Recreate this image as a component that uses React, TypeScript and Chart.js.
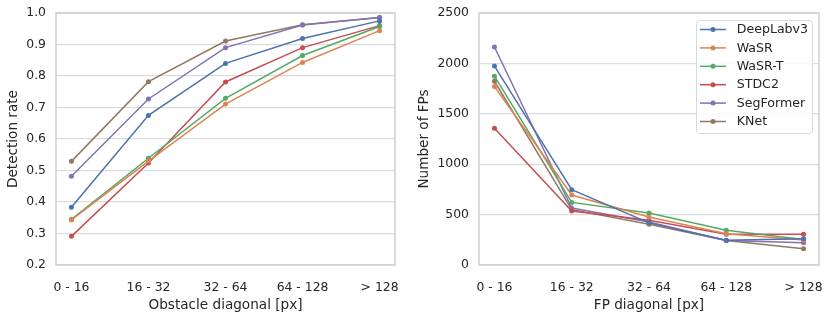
import React, { useEffect, useRef } from 'react';
import { Chart, registerables } from 'chart.js';
Chart.register(...registerables);

const categories = ['0 - 16', '16 - 32', '32 - 64', '64 - 128', '> 128'];
const seriesNames = ['DeepLabv3', 'WaSR', 'WaSR-T', 'STDC2', 'SegFormer', 'KNet'];
const seriesColors = ['#4C72B0', '#DD8452', '#55A868', '#C44E52', '#8172B3', '#937860'];

// Detection rate per obstacle size
const detDeepLabv3 = [0.383, 0.675, 0.840, 0.919, 0.975];
const detWaSR = [0.343, 0.530, 0.711, 0.843, 0.944];
const detWaSRT = [0.345, 0.539, 0.729, 0.865, 0.957];
const detSTDC2 = [0.291, 0.524, 0.781, 0.890, 0.960];
const detSegFormer = [0.482, 0.727, 0.890, 0.962, 0.986];
const detKNet = [0.529, 0.782, 0.911, 0.963, 0.986];

// Number of FPs per FP size
const fpDeepLabv3 = [1973, 747, 418, 245, 260];
const fpWaSR = [1770, 694, 477, 310, 247];
const fpWaSRT = [1873, 621, 516, 345, 253];
const fpSTDC2 = [1356, 535, 444, 306, 306];
const fpSegFormer = [2163, 565, 427, 243, 220];
const fpKNet = [1823, 549, 404, 243, 161];

const detTicks = [0.2, 0.3, 0.4, 0.5, 0.6, 0.7, 0.8, 0.9, 1.0];
const fpTicks = [0, 500, 1000, 1500, 2000, 2500];

const FONT = 'DejaVu Sans';
const TEXT = '#262626';

const framePlugin = {
  id: 'frame',
  afterDatasetsDraw(chart: any) {
    const { ctx, chartArea } = chart;
    ctx.save();
    ctx.strokeStyle = '#cfcfcf';
    ctx.lineWidth = 1.5;
    ctx.strokeRect(chartArea.left, chartArea.top, chartArea.right - chartArea.left, chartArea.bottom - chartArea.top);
    ctx.restore();
  },
};

const legendPlugin = {
  id: 'innerLegend',
  afterDraw(chart: any, _args: any, opts: any) {
    if (!opts || !opts.show) return;
    const { ctx, chartArea } = chart;
    const boxW = 116, boxH = 113, rowH = 18.4;
    const x0 = chartArea.right - 7 - boxW;
    const y0 = chartArea.top + 7;
    ctx.save();
    ctx.beginPath();
    (ctx as any).roundRect(x0 + 0.5, y0 + 0.5, boxW, boxH, 3);
    ctx.fillStyle = 'rgba(255,255,255,0.85)';
    ctx.fill();
    ctx.strokeStyle = '#d9d9d9';
    ctx.lineWidth = 1;
    ctx.stroke();
    chart.data.datasets.forEach((ds: any, i: number) => {
      const cy = y0 + 9.5 + i * rowH;
      ctx.strokeStyle = ds.borderColor;
      ctx.lineWidth = 1.5;
      ctx.beginPath();
      ctx.moveTo(x0 + 4, cy);
      ctx.lineTo(x0 + 30, cy);
      ctx.stroke();
      ctx.fillStyle = ds.borderColor;
      ctx.beginPath();
      ctx.arc(x0 + 17, cy, 2.5, 0, Math.PI * 2);
      ctx.fill();
      ctx.fillStyle = TEXT;
      ctx.font = `12.6px "${FONT}"`;
      ctx.textBaseline = 'middle';
      ctx.textAlign = 'left';
      ctx.fillText(ds.label, x0 + 40.7, cy + 0.5);
    });
    ctx.restore();
  },
};

function makeDatasets(series: number[][]) {
  return series.map((vals, i) => ({
    label: seriesNames[i],
    data: vals.map((v, j) => ({ x: j, y: v })),
    borderColor: seriesColors[i],
    backgroundColor: seriesColors[i],
    borderWidth: 1.5,
    pointRadius: 2.5,
    pointHoverRadius: 2.5,
    pointBorderWidth: 0,
    tension: 0,
  }));
}

function makeOptions(p: {
  yTicks: number[];
  yFmt: (v: number) => string;
  yTitle: string;
  xTitle: string;
  yWidth: number;
  padRight: number;
  yTitlePad: number;
  legend: boolean;
}) {
  return {
    animation: false,
    responsive: false,
    devicePixelRatio: 1,
    layout: { padding: { top: 13, right: p.padRight, left: 0, bottom: 0 } },
    plugins: {
      legend: { display: false },
      tooltip: { enabled: false },
      innerLegend: { show: p.legend },
    },
    scales: {
      x: {
        type: 'linear',
        min: -0.2,
        max: 4.2,
        grid: { display: false, drawTicks: false },
        border: { display: false },
        afterBuildTicks: (scale: any) => {
          scale.ticks = categories.map((_, i) => ({ value: i }));
        },
        afterFit: (scale: any) => {
          scale.height = 49;
          scale.paddingLeft = 0;
          scale.paddingRight = 0;
        },
        ticks: {
          autoSkip: false,
          maxRotation: 0,
          padding: 15,
          color: TEXT,
          font: { family: FONT, size: 12.4 },
          callback: (v: number) => categories[v] ?? '',
        },
        title: {
          display: true,
          text: p.xTitle,
          color: TEXT,
          font: { family: FONT, size: 13.6, lineHeight: 1 },
          padding: { top: 0, bottom: 2 },
        },
      },
      y: {
        type: 'linear',
        min: p.yTicks[0],
        max: p.yTicks[p.yTicks.length - 1],
        grid: { color: '#dddddd', lineWidth: 1.2, drawTicks: false },
        border: { display: false },
        afterBuildTicks: (scale: any) => {
          scale.ticks = p.yTicks.map((v) => ({ value: v }));
        },
        afterFit: (scale: any) => {
          scale.width = p.yWidth;
          scale.paddingTop = 0;
          scale.paddingBottom = 0;
        },
        ticks: {
          padding: 10,
          color: TEXT,
          font: { family: FONT, size: 12.4 },
          callback: (v: number) => p.yFmt(v),
        },
        title: {
          display: true,
          text: p.yTitle,
          color: TEXT,
          font: { family: FONT, size: 13.6, lineHeight: 1 },
          padding: { top: p.yTitlePad, bottom: 0 },
        },
      },
    },
  };
}

function LineChart(props: { series: number[][]; opts: any }) {
  const ref = useRef<HTMLCanvasElement>(null);
  useEffect(() => {
    if (!ref.current) return;
    const chart = new Chart(ref.current, {
      type: 'line',
      data: { datasets: makeDatasets(props.series) as any },
      options: props.opts,
      plugins: [framePlugin, legendPlugin],
    } as any);
    return () => chart.destroy();
  }, []);
  return <canvas ref={ref} width={415} height={314} style={{ display: 'block', width: 415, height: 314 }} />;
}

export default function App() {
  const leftOpts = makeOptions({
    yTicks: detTicks,
    yFmt: (v) => v.toFixed(1),
    yTitle: 'Detection rate',
    xTitle: 'Obstacle diagonal [px]',
    yWidth: 56,
    padRight: 20,
    yTitlePad: 6.2,
    legend: false,
  });
  const rightOpts = makeOptions({
    yTicks: fpTicks,
    yFmt: (v) => String(v),
    yTitle: 'Number of FPs',
    xTitle: 'FP diagonal [px]',
    yWidth: 64,
    padRight: 11,
    yTitlePad: 2.7,
    legend: true,
  });
  return (
    <div style={{ position: 'absolute', left: 0, top: 0, width: 830, height: 314, display: 'flex', background: '#fff' }}>
      <LineChart
        series={[detDeepLabv3, detWaSR, detWaSRT, detSTDC2, detSegFormer, detKNet]}
        opts={leftOpts}
      />
      <LineChart
        series={[fpDeepLabv3, fpWaSR, fpWaSRT, fpSTDC2, fpSegFormer, fpKNet]}
        opts={rightOpts}
      />
    </div>
  );
}
